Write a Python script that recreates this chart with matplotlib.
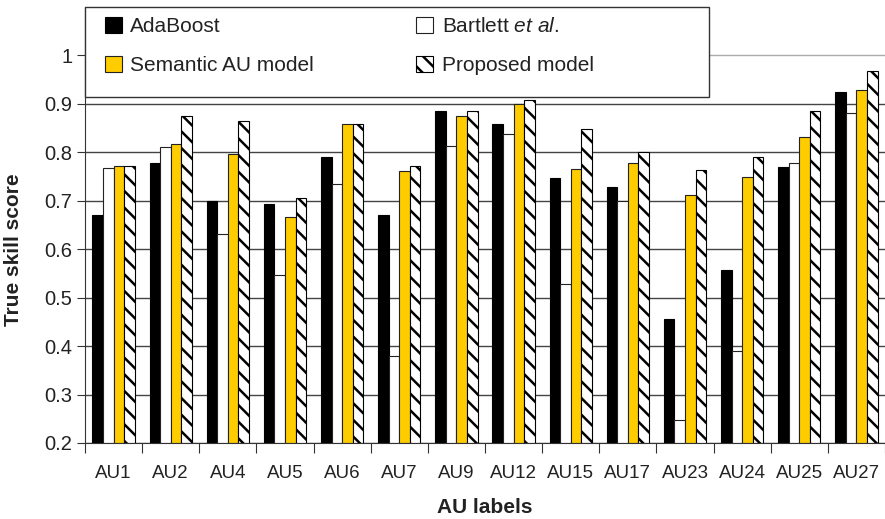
import numpy as np
import matplotlib
matplotlib.use("Agg")
from matplotlib import pyplot as plt
from matplotlib.patches import Rectangle

plt.rcParams["font.family"] = ["Liberation Sans", "DejaVu Sans"]
plt.rcParams["hatch.linewidth"] = 1.8
plt.rcParams["mathtext.fontset"] = "custom"
plt.rcParams["mathtext.rm"] = "Liberation Sans"
plt.rcParams["mathtext.it"] = "Liberation Sans:italic"

labels = ['AU1', 'AU2', 'AU4', 'AU5', 'AU6', 'AU7', 'AU9', 'AU12', 'AU15',
          'AU17', 'AU23', 'AU24', 'AU25', 'AU27']
adaboost = [0.671, 0.777, 0.700, 0.694, 0.791, 0.671, 0.886, 0.859, 0.747,
            0.729, 0.456, 0.557, 0.769, 0.925]
bartlett = [0.767, 0.811, 0.632, 0.547, 0.734, 0.379, 0.814, 0.837, 0.529,
            0.700, 0.247, 0.390, 0.777, 0.881]
semantic = [0.771, 0.817, 0.796, 0.666, 0.859, 0.762, 0.875, 0.899, 0.765,
            0.779, 0.712, 0.749, 0.831, 0.928]
proposed = [0.772, 0.876, 0.864, 0.705, 0.859, 0.772, 0.886, 0.908, 0.849,
            0.800, 0.763, 0.790, 0.886, 0.967]
yticks = [0.2, 0.3, 0.4, 0.5, 0.6, 0.7, 0.8, 0.9, 1.0]
ytick_labels = ['0.2', '0.3', '0.4', '0.5', '0.6', '0.7', '0.8', '0.9', '1']
bartlett_label = 'Bartlett $\\it{et\\ al}$.'

W, H = 885, 519
fig = plt.figure(figsize=(W / 100, H / 100), dpi=100)
ax = fig.add_axes([85 / W, 76 / H, (W - 85) / W, (443 - 7) / H])

x = np.arange(len(labels))
bw = 0.185
yellow = '#FFCC00'
b1 = ax.bar(x - 1.5 * bw, [v - 0.2 for v in adaboost], bw, bottom=0.2,
            color='black', edgecolor='black', lw=0.8, zorder=2)
b2 = ax.bar(x - 0.5 * bw, [v - 0.2 for v in bartlett], bw, bottom=0.2,
            color='white', edgecolor='#222222', lw=0.8, zorder=2)
b3 = ax.bar(x + 0.5 * bw, [v - 0.2 for v in semantic], bw, bottom=0.2,
            color=yellow, edgecolor='#222222', lw=0.8, zorder=2)
b4 = ax.bar(x + 1.5 * bw, [v - 0.2 for v in proposed], bw, bottom=0.2,
            color='white', edgecolor='black', lw=0.8, hatch='\\\\', zorder=2)

ax.set_xlim(-0.5, 13.47)
ax.set_ylim(0.2, 1.1)
ax.set_yticks(yticks)
ax.set_yticklabels(ytick_labels, fontsize=14.5, color='#222222')
ax.set_xticks(x)
ax.set_xticklabels(labels, fontsize=13.5, color='#222222')
ax.set_xticks(np.arange(-0.5, 14, 1), minor=True)
ax.tick_params(axis='x', which='major', length=0, pad=16)
ax.tick_params(axis='x', which='minor', length=7, width=0.8, color='#333333')
ax.tick_params(axis='y', length=6, width=0.8, color='#333333', pad=3)

ax.grid(axis='y', color='#444444', lw=1.0, zorder=0)
ax.set_axisbelow(True)
ax.get_ygridlines()[-1].set_color('#aaaaaa')
for s in ['top', 'right']:
    ax.spines[s].set_visible(False)
ax.spines['left'].set_color('#333333')
ax.spines['bottom'].set_color('#333333')

ax.set_xlabel('AU labels', fontsize=15, fontweight='bold', color='#222222')
ax.set_ylabel('True skill score', fontsize=15, fontweight='bold', color='#222222')
ax.xaxis.set_label_coords(0.5, -0.127)
ax.yaxis.set_label_coords(-0.077, 0.443)

# legend frame
ax.add_patch(Rectangle((85 / W, 1 - 97 / H), 624 / W, 90 / H, transform=fig.transFigure,
                       facecolor='white', edgecolor='#333333', lw=1.0, clip_on=False, zorder=3))
leg = ax.legend([b1, b3, b2, b4],
                ['AdaBoost', 'Semantic AU model', bartlett_label, 'Proposed model'],
                ncol=2, frameon=False, fontsize=15, loc='upper left',
                bbox_to_anchor=(105 / W, 1 - 17 / H), bbox_transform=fig.transFigure,
                borderpad=0, borderaxespad=0, handlelength=0.82, handleheight=0.82,
                handletextpad=0.4, columnspacing=4.9, labelspacing=0.95)
leg.set_zorder(5)
for t in leg.get_texts():
    t.set_color('#222222')

fig.savefig('out.png', dpi=100)
